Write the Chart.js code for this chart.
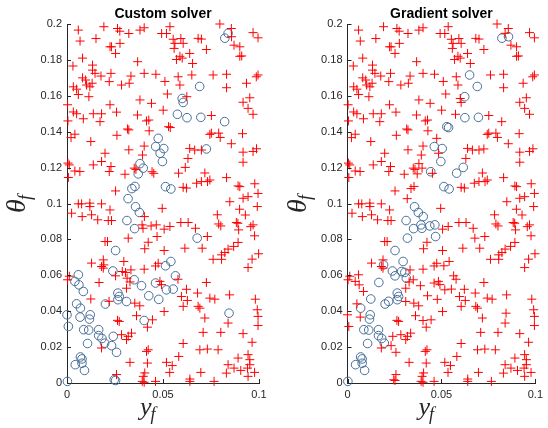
<!DOCTYPE html>
<html>
<head>
<meta charset="utf-8">
<script src="https://cdn.jsdelivr.net/npm/chart.js@4.4.1/dist/chart.umd.min.js"></script>
<style>
  body { margin: 0; background: #fff; }
  canvas { position: absolute; top: 0; }
</style>
</head>
<body>
<canvas id="custom" width="274" height="428" style="left:0"></canvas>
<canvas id="gradient" width="274" height="428" style="left:274px"></canvas>
<script>
const xTicks = [0, 0.05, 0.1];
const yTicks = [0, 0.02, 0.04, 0.06, 0.08, 0.1, 0.12, 0.14, 0.16, 0.18, 0.2];
const panelTitles = ['Custom solver', 'Gradient solver'];

// samples shown as + in both panels
const sharedCross = [
  [0.0059,0.1966],[0.0068,0.1905],[0.0192,0.1985],[0.0263,0.1975],[0.0275,0.196],[0.0322,0.1947],
  [0.038,0.1966],[0.0402,0.1979],[0.0151,0.1919],[0.0224,0.1873],[0.0232,0.1873],[0.0276,0.1892],
  [0.0253,0.1836],[0.0081,0.181],[0.0031,0.1766],[0.0133,0.1771],[0.0133,0.1743],[0.0368,0.179],
  [0.0081,0.170],[0.0097,0.1688],[0.0146,0.1725],[0.0177,0.171],[0.0229,0.1725],[0.022,0.1679],
  [0.0033,0.165],[0.005,0.1637],[0.0059,0.1607],[0.0102,0.166],[0.0119,0.165],[0.0131,0.167],
  [0.0114,0.1595],[0.0284,0.166],[0.0324,0.167],[0.0333,0.171],[0.0402,0.1725],[0.0463,0.172],
  [0.0003,0.155],[0.0005,0.146],[0.0033,0.151],[0.005,0.150],[0.0085,0.1472],[0.0137,0.150],
  [0.018,0.150],[0.0172,0.1456],[0.0224,0.155],[0.0258,0.1509],[0.0367,0.1493],[0.038,0.1577],
  [0.044,0.1558],[0.0414,0.146],[0.0426,0.1465],[0.0428,0.1405],[0.0322,0.141],[0.0315,0.1415],
  [0.026,0.138],[0.0021,0.1367],[0.0041,0.1386],[0.0124,0.1345],[0.0322,0.1299],[0.0402,0.132],
  [0.0393,0.127],[0.0198,0.128],[0.018,0.1234],[0.0229,0.1206],[0.022,0.1178],[0.0005,0.1225],
  [0.0012,0.1215],[0.0041,0.1181],[0.0067,0.1178],[0.0007,0.1145],[0.0137,0.1215],[0.0302,0.1163],
  [0.035,0.1197],[0.0359,0.119],[0.0452,0.1168],[0.0253,0.107],
  [0.0536,0.1985],[0.0493,0.1947],[0.0518,0.1947],[0.0553,0.1915],[0.0562,0.1892],[0.0593,0.1919],
  [0.0605,0.1892],[0.0558,0.1864],[0.0683,0.192],[0.070,0.1916],[0.0726,0.1858],[0.0639,0.1836],
  [0.0588,0.182],[0.057,0.1802],[0.0600,0.181],[0.0654,0.178],[0.0796,0.2],[0.0856,0.1975],
  [0.0870,0.1882],[0.0900,0.1873],[0.0900,0.182],[0.091,0.1822],[0.0969,0.1952],[0.0995,0.1923],
  [0.0579,0.1706],[0.051,0.168],[0.0761,0.1716],[0.0831,0.172],[0.0831,0.1645],[0.0935,0.167],
  [0.0986,0.1706],[0.0995,0.1716],[0.0523,0.161],[0.0588,0.166],[0.0501,0.152],[0.0917,0.1564],
  [0.0952,0.1589],[0.0943,0.153],[0.0969,0.1497],[0.0752,0.149],[0.0744,0.1385],[0.0752,0.1392],
  [0.0790,0.1392],[0.0798,0.1368],[0.0856,0.1333],[0.0914,0.1389],[0.0639,0.1307],[0.0665,0.1298],
  [0.070,0.1298],[0.063,0.1251],[0.0917,0.1286],[0.0917,0.123],[0.0969,0.129],[0.0987,0.1305],
  [0.0718,0.117],[0.070,0.1122],[0.0675,0.1113],[0.0732,0.1122],[0.0744,0.1131],[0.0605,0.109],
  [0.0622,0.1086],[0.0831,0.1144],[0.0891,0.1098],[0.09,0.1094],[0.0978,0.111],[0.0995,0.1056],
  [0.0848,0.101],[0.0917,0.1029],[0.0943,0.1038],
  [0.0024,0.0946],[0.0059,0.0998],[0.0076,0.0998],[0.0119,0.1002],[0.0119,0.0983],[0.018,0.0998],
  [0.0224,0.0964],[0.0079,0.0927],[0.0128,0.0937],[0.016,0.0909],[0.0215,0.0905],[0.0232,0.0905],
  [0.0198,0.0788],[0.0211,0.0788],[0.0128,0.0668],[0.0189,0.0686],[0.018,0.0649],[0.0189,0.0640],
  [0.0333,0.063],[0.0402,0.0634],[0.0461,0.0652],[0.0475,0.0667],[0.0003,0.0575],[0.0012,0.0595],
  [0.0328,0.0563],[0.0484,0.0566],[0.0492,0.0548],[0.031,0.0528],[0.0353,0.0445],[0.0379,0.043],
  [0.0362,0.0375],[0.0263,0.0349],[0.0272,0.0343],[0.0445,0.0352],[0.0419,0.0311],[0.0284,0.0269],
  [0.0319,0.026],[0.0336,0.0278],[0.031,0.0242],[0.018,0.0195],[0.0423,0.0185],[0.0414,0.0176],
  [0.0419,0.0111],[0.0328,0.0115],[0.0405,0.0056],[0.0397,0.0037],[0.0258,0.0047],[0.0392,0.0009],
  [0.0402,0.0004],[0.0461,0.0009],[0.0405,0.0748],[0.0423,0.0784],
  [0.0496,0.0973],[0.0899,0.0968],[0.0929,0.0936],[0.0991,0.0983],[0.0783,0.0937],[0.079,0.0886],
  [0.0801,0.0875],[0.0882,0.0894],[0.089,0.089],[0.0894,0.0853],[0.0957,0.0871],[0.0969,0.0881],
  [0.0977,0.0820],[0.0593,0.0894],[0.0631,0.0894],[0.0669,0.0862],[0.0536,0.0872],[0.0506,0.0857],
  [0.0731,0.0816],[0.0704,0.0751],[0.0614,0.0751],[0.0506,0.0738],[0.0891,0.0783],[0.0868,0.0761],
  [0.0839,0.0746],[0.0822,0.0727],[0.0805,0.0714],[0.0761,0.0689],[0.0805,0.0689],[0.0964,0.069],
  [0.0943,0.0643],[0.0998,0.072],[0.0726,0.0560],[0.0622,0.0522],[0.0596,0.0482],[0.0627,0.0460],
  [0.0680,0.0501],[0.0744,0.0473],[0.077,0.0467],[0.0847,0.0491],[0.0981,0.0467],[0.0605,0.0427],
  [0.0683,0.0427],[0.0692,0.0417],[0.0991,0.0408],[0.0995,0.0371],[0.0718,0.0362],[0.0839,0.0334],
  [0.0995,0.032],[0.0506,0.0398],[0.0709,0.0282],[0.0801,0.0282],[0.0917,0.0275],[0.0964,0.0227],
  [0.0605,0.022],[0.0692,0.0185],[0.0731,0.0189],[0.0787,0.0185],[0.0582,0.0148],[0.0891,0.0139],
  [0.0943,0.0158],[0.0952,0.013],[0.0518,0.0115],[0.0548,0.0097],[0.0839,0.0102],[0.087,0.0083],
  [0.0905,0.007],[0.094,0.0083],[0.0952,0.0102],[0.0977,0.0059],[0.083,0.0055],[0.0535,0.0059],
  [0.0697,0.0059],[0.064,0.0022],[0.064,0.0009],[0.0766,0.0009],[0.0943,0.0037],[0.0578,0.0578]
];

// samples shown as o in both panels
const bothCircle = [
  [0.0822,0.1921],[0.0691,0.1652],[0.0625,0.1478],[0.0697,0.148],[0.0462,0.1317],[0.0504,0.1306],
  [0.0497,0.1234],[0.0513,0.1094],[0.0541,0.1081],[0.0357,0.0982],[0.0377,0.095],[0.0312,0.0905],
  [0.0352,0.086],[0.0253,0.0738],[0.0239,0.0624],[0.0265,0.0501],[0.0272,0.0482],[0.0265,0.0464],
  [0.020,0.044],[0.007,0.0417],[0.0121,0.038],[0.0117,0.0356],[0.0087,0.0297],[0.0113,0.0295],
  [0.0165,0.0297],[0.0165,0.0264],[0.0182,0.0248],[0.0196,0.0222],[0.0107,0.022],[0.007,0.0145],
  [0.0078,0.0134],[0.0078,0.011],[0.0043,0.0102],[0.0091,0.007],[0.0002,0.0009]
];

// o only for the custom solver (+ in the gradient panel)
const customOnly = [
  [0.0839,0.1948],[0.0600,0.1585],[0.0605,0.1563],[0.0575,0.1497],[0.0821,0.1456],[0.0475,0.1363],
  [0.0485,0.128],[0.0726,0.1304],[0.0380,0.1222],[0.0397,0.1197],[0.0371,0.1165],[0.0354,0.1095],
  [0.0338,0.1083],[0.0318,0.1027],[0.0678,0.0807],[0.0059,0.0603],[0.0041,0.0566],[0.0062,0.0547],
  [0.0085,0.051],[0.035,0.0575],[0.0388,0.0542],[0.031,0.0454],[0.0426,0.0486],[0.0478,0.0466],
  [0.0461,0.0557],[0.005,0.0441],[0.0,0.038],[0.0068,0.0367],[0.0007,0.0315],[0.0241,0.026],
  [0.0232,0.0208],[0.0258,0.0171],[0.0246,0.0018],[0.0253,0.0014],[0.0402,0.0348],[0.0541,0.0677],
  [0.0513,0.0653],[0.0565,0.0597],[0.0518,0.0519],[0.0553,0.0523],[0.0844,0.0389]
];

// o only for the gradient solver (+ in the custom panel)
const gradientOnly = [
  [0.0857,0.1929],[0.0650,0.1716],[0.0624,0.1595],[0.0529,0.1428],[0.0538,0.1423],[0.0443,0.1177],
  [0.0616,0.1201],[0.0581,0.1169],[0.0403,0.0927],[0.0391,0.0881],[0.0396,0.0862],[0.0438,0.0875],
  [0.0465,0.0881],[0.0469,0.0816],[0.0319,0.0807],[0.0296,0.0677],[0.0192,0.0658],[0.0288,0.0621],
  [0.0305,0.0616],[0.0253,0.0597],[0.0313,0.0584],[0.0167,0.056],[0.0219,0.0455],[0.0124,0.0468]
];

const axisColor = '#262626';
const fmt = v => String(Math.round(v * 1000) / 1000);
const toPts = list => list.map(p => ({ x: p[0], y: p[1] }));

// title, latex-like axis labels and inward ticks, MATLAB style
const matlabAxes = {
  id: 'matlabAxes',
  afterDraw(chart, args, opts) {
    const ctx = chart.ctx;
    const a = chart.chartArea;
    const xs = chart.scales.x, ys = chart.scales.y;
    ctx.save();
    ctx.strokeStyle = axisColor;
    ctx.lineWidth = 1;
    ctx.beginPath();
    yTicks.forEach(v => {
      const py = Math.round(ys.getPixelForValue(v)) + 0.5;
      ctx.moveTo(a.left, py); ctx.lineTo(a.left + 4, py);
    });
    xTicks.forEach(v => {
      const px = Math.round(xs.getPixelForValue(v)) + 0.5;
      ctx.moveTo(px, a.bottom); ctx.lineTo(px, a.bottom - 4);
    });
    ctx.stroke();

    const cx = (a.left + a.right) / 2;
    ctx.fillStyle = '#000';
    ctx.font = 'bold 14px "Liberation Sans", Arial, sans-serif';
    ctx.textAlign = 'center';
    ctx.textBaseline = 'middle';
    ctx.fillText(opts.title, cx, 14);

    ctx.fillStyle = axisColor;
    // x label: y_f
    ctx.textAlign = 'left';
    ctx.textBaseline = 'alphabetic';
    ctx.font = 'italic 26px "Liberation Serif", serif';
    const yx = cx - 23;
    ctx.fillText('y', yx, 415);
    const yw = ctx.measureText('y').width;
    ctx.font = 'italic 18px "Liberation Serif", serif';
    ctx.fillText('f', yx + yw - 1, 420);

    // y label: theta_f, rotated
    ctx.translate(a.left - 49, 206);
    ctx.rotate(-Math.PI / 2);
    ctx.font = 'italic 28px "Liberation Serif", serif';
    ctx.textAlign = 'center';
    ctx.textBaseline = 'middle';
    ctx.fillText('θ', 0, 0);
    const tw = ctx.measureText('θ').width;
    ctx.font = 'italic 18px "Liberation Serif", serif';
    ctx.textAlign = 'left';
    ctx.fillText('f', tw / 2 - 1, 8);
    ctx.restore();
  }
};

function makePanel(id, title, crosses, circles, axisWidth, padRight) {
  const tickFont = { family: '"Liberation Sans", Arial, sans-serif', size: 11 };
  new Chart(document.getElementById(id), {
    type: 'scatter',
    data: {
      datasets: [
        {
          data: toPts(crosses),
          pointStyle: 'cross',
          pointRadius: 4.5,
          borderColor: '#ff0000',
          borderWidth: 1,
          clip: false
        },
        {
          data: toPts(circles),
          pointStyle: 'circle',
          pointRadius: 4.3,
          borderColor: '#476e98',
          backgroundColor: 'rgba(0,0,0,0)',
          borderWidth: 1,
          clip: false
        }
      ]
    },
    options: {
      responsive: false,
      animation: false,
      events: [],
      layout: { padding: { top: 24, right: padRight, left: 0, bottom: 0 } },
      plugins: {
        legend: { display: false },
        tooltip: { enabled: false },
        matlabAxes: { title: title }
      },
      scales: {
        x: {
          type: 'linear', min: 0, max: 0.1,
          afterBuildTicks: s => { s.ticks = xTicks.map(v => ({ value: v })); },
          afterFit: s => { s.height = 45; },
          ticks: { callback: v => fmt(v), font: tickFont, color: axisColor, padding: 5, maxRotation: 0 },
          grid: { display: false, drawTicks: false },
          border: { display: true, color: axisColor, width: 1 }
        },
        y: {
          type: 'linear', min: 0, max: 0.2,
          afterBuildTicks: s => { s.ticks = yTicks.map(v => ({ value: v })); },
          afterFit: s => { s.width = axisWidth; },
          ticks: { callback: v => fmt(v), font: tickFont, color: axisColor, padding: 5 },
          grid: { display: false, drawTicks: false },
          border: { display: true, color: axisColor, width: 1 }
        }
      }
    },
    plugins: [matlabAxes]
  });
}

makePanel('custom', panelTitles[0], sharedCross.concat(gradientOnly), bothCircle.concat(customOnly), 67, 15);
makePanel('gradient', panelTitles[1], sharedCross.concat(customOnly), bothCircle.concat(gradientOnly), 73.5, 8);
</script>
</body>
</html>
